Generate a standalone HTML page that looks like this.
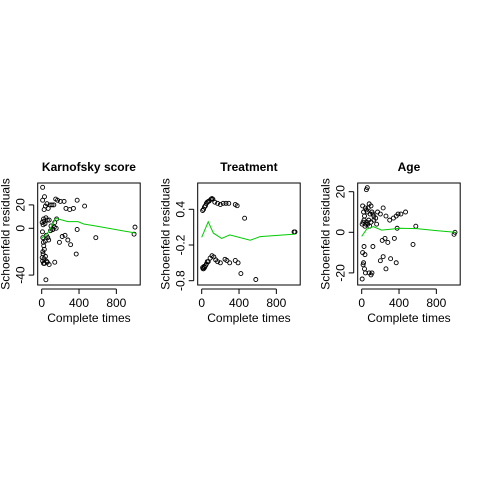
<!DOCTYPE html>
<html><head><meta charset="utf-8"><style>
body{margin:0;background:#fff}
svg{display:block}
text{font-family:"Liberation Sans",Arial,sans-serif;fill:#000}
</style></head><body>
<svg id="c" width="480" height="480"></svg>
<script>
const panelTitles=["Karnofsky score","Treatment","Age"];
const xTicks=[0,400,800];
const yTicks1=[-40,0,20];
const yTicks2=[-0.8,-0.2,0.4];
const yTicks3=[-20,0,20];
const times1=[10,30,10,56,26,40,70,90,110,130,150,170,200,240,260,300,340,380,460,5,15,20,25,35,45,60,80,100,120,140,160,8,12,18,22,28,38,50,65,75,95,115,135,155,190,220,250,280,310,370,5,10,15,20,25,30,40,50,60,80,140,380,580,1000,990,45,12];
const resid1=[35,27,24,21,16,19,17,20,20,20,25,24,23,23,17,16,17,24,19,5,3,8,6,4,9,7,7,2,-1,5,8,-3,-8,-12,-15,-18,-11,-6,-8,-10,-2,-1,1,0,-12,-7,-6,-10,-14,-22,-25,-28,-22,-30,-26,-30,-24,-28,-29,-31,-29,-1,-8,1,-5,-44,-20];
const times2=[10,20,30,40,50,60,70,80,100,110,120,140,170,200,230,260,290,360,380,10,20,30,40,50,60,70,90,110,130,150,170,200,250,270,300,360,390,420,580,460,1000,990,15,25];
const resid2=[0.38,0.4,0.44,0.46,0.5,0.52,0.53,0.54,0.57,0.58,0.57,0.52,0.5,0.48,0.5,0.5,0.5,0.48,0.46,-0.58,-0.6,-0.58,-0.55,-0.52,-0.48,-0.48,-0.42,-0.38,-0.4,-0.45,-0.48,-0.5,-0.44,-0.46,-0.5,-0.46,-0.5,-0.68,-0.78,0.25,0.02,0.02,-0.6,-0.56];
const times3=[10,20,30,40,50,60,70,80,90,100,110,120,130,150,170,200,230,260,300,340,370,390,420,470,5,15,25,35,45,55,65,75,85,100,130,160,220,250,280,350,380,550,580,1000,990,50,60,10,20,30,40,80,100,110,120,200,230,260,310,370,5,15,25,35];
const resid3=[13,10,8,12,11,10,12,14,9,13,10,9,8,7,10,9,12,8,6,7,8,9,9,10,4,5,6,3,4,5,4,6,3,5,6,4,-4,-3,-5,-3,2,-6,3,0,-1,21,22,-10,-15,-18,-20,-20,-21,-20,-7,-14,-12,-18,-13,-15,-23,-16,-7,-11];
const line1t=[0,75,150,280,390,450,580,1000];
const line1v=[-8.6,-3,8.6,5.7,5.7,3.7,2,-4];
const line2t=[0,70,125,214,300,520,625,980,1000];
const line2v=[-0.07,0.19,0.0,-0.09,-0.03,-0.12,-0.06,-0.02,-0.02];
const line3t=[0,54,125,214,410,590,800,1000];
const line3v=[-2,1.6,2.8,1.1,2,1.8,0.8,0];

const svg=document.getElementById('c');const NS="http://www.w3.org/2000/svg";
function el(t,a,p){const e=document.createElementNS(NS,t);for(const k in a)e.setAttribute(k,a[k]);(p||svg).appendChild(e);return e;}
const panels=[
 {x0:37.7,yMid:228.3,yVal0:0,ys:1.17,times:times1,res:resid1,lt:line1t,lv:line1v,yt:yTicks1,fmt:v=>String(v)},
 {x0:197.7,yMid:245,yVal0:-0.2,ys:59.5,times:times2,res:resid2,lt:line2t,lv:line2v,yt:yTicks2,fmt:v=>v.toFixed(1)},
 {x0:357.7,yMid:232.3,yVal0:0,ys:2.03,times:times3,res:resid3,lt:line3t,lv:line3v,yt:yTicks3,fmt:v=>String(v)}];
panels.forEach((p,i)=>{
 const g=el('g',{});
 
 
 const xs=t=>p.x0+4+t*0.0933;
 const ys=v=>p.yMid-(v-p.yVal0)*p.ys;
 const L=p.x0,R=p.x0+102.5,T=183,B=285;
 const box=el('rect',{x:L,y:T,width:R-L,height:B-T,fill:'none',stroke:'#000'},g);
 
 const tt=el('text',{x:(L+R)/2,y:171,'text-anchor':'middle','font-size':12,'font-weight':'bold'},g);tt.textContent=panelTitles[i];
 
 el('line',{x1:xs(0),x2:xs(800),y1:B+4,y2:B+4,stroke:'#000'},g);
 xTicks.forEach(t=>{el('line',{x1:xs(t),x2:xs(t),y1:B+4,y2:B+9,stroke:'#000'},g);
  const tx=el('text',{x:xs(t),y:B+22,'text-anchor':'middle','font-size':12},g);tx.textContent=t;
  });
 el('line',{x1:L-4,x2:L-4,y1:ys(p.yt[0]),y2:ys(p.yt[p.yt.length-1]),stroke:'#000'},g);
 p.yt.forEach(v=>{el('line',{x1:L-9,x2:L-4,y1:ys(v),y2:ys(v),stroke:'#000'},g);
  const ty=el('text',{x:L-13,y:ys(v),'text-anchor':'middle','font-size':12,transform:`rotate(-90 ${L-13} ${ys(v)})`},g);ty.textContent=p.fmt(v);
  });
 const xl=el('text',{x:(L+R)/2,y:322,'text-anchor':'middle','font-size':12},g);xl.textContent='Complete times';
 
 const yx=L-28,yy=(T+B)/2;
 const yl=el('text',{x:yx,y:yy,'text-anchor':'middle','font-size':12,transform:`rotate(-90 ${yx} ${yy})`},g);yl.textContent='Schoenfeld residuals';
 
 p.times.forEach((t,k)=>{const c=el('circle',{cx:xs(t),cy:ys(p.res[k]),r:2,fill:'none',stroke:'#000','stroke-width':0.9},g);
  });
 const pl=el('polyline',{points:p.lt.map((t,k)=>xs(t)+','+ys(p.lv[k])).join(' '),fill:'none',stroke:'#00cd00','stroke-width':1},g);
 
});
</script></body></html>
